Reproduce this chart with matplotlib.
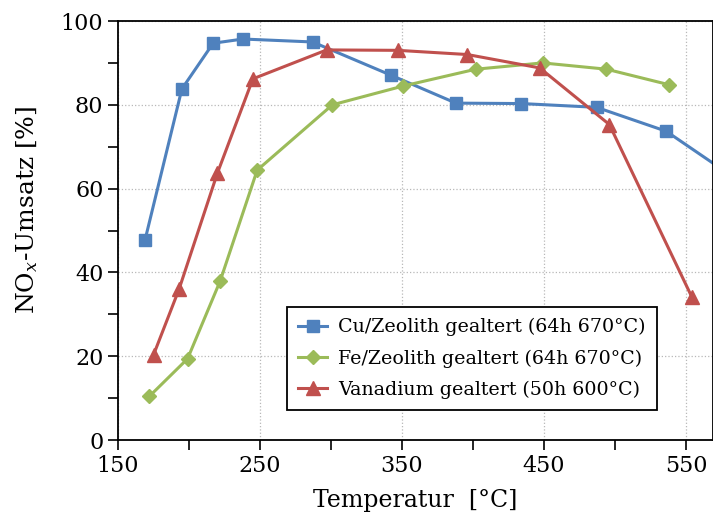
import matplotlib
matplotlib.use("Agg")
import matplotlib.pyplot as plt
from matplotlib.ticker import MultipleLocator

plt.rcParams['font.family'] = ['DejaVu Serif']
plt.rcParams['mathtext.fontset'] = 'dejavuserif'

# Cu/Zeolith gealtert
cu_t = [169, 195, 217, 238, 287, 342, 388, 434, 487, 536, 600]
cu_y = [47.7, 83.8, 94.7, 95.7, 95.0, 87.1, 80.4, 80.3, 79.4, 73.7, 58.9]

# Fe/Zeolith gealtert
fe_t = [172, 199, 222, 248, 301, 351, 402, 449, 494, 538]
fe_y = [10.4, 19.4, 38.0, 64.4, 80.0, 84.5, 88.5, 90.0, 88.5, 84.8]

# Vanadium gealtert
va_t = [175, 193, 220, 245, 297, 347, 396, 447, 496, 554]
va_y = [20.3, 36.0, 63.7, 86.2, 93.1, 93.0, 92.0, 88.8, 75.3, 34.2]

labels = ["Cu/Zeolith gealtert (64h 670°C)",
          "Fe/Zeolith gealtert (64h 670°C)",
          "Vanadium gealtert (50h 600°C)"]

fig = plt.figure(figsize=(7.13, 5.2), dpi=100)
ax = fig.add_axes([0.1655, 0.1538, 0.8345, 0.8058])

ax.plot(cu_t, cu_y, color='#4F81BD', lw=2.2, marker='s', ms=9, label=labels[0])
ax.plot(fe_t, fe_y, color='#9BBB59', lw=2.2, marker='D', ms=7, label=labels[1])
ax.plot(va_t, va_y, color='#C0504D', lw=2.2, marker='^', ms=10, label=labels[2])

ax.set_xlim(150, 569)
ax.set_ylim(0, 100)
ax.xaxis.set_minor_locator(MultipleLocator(50))
ax.yaxis.set_major_locator(MultipleLocator(20))
ax.yaxis.set_minor_locator(MultipleLocator(10))
ax.set_xticks([150, 250, 350, 450, 550])
ax.tick_params(which='both', direction='out', length=7, width=1.2, labelsize=16)
ax.grid(True, which='major', color='#b8b8b8', ls=':', lw=0.9)
ax.set_axisbelow(True)
for s in ax.spines.values():
    s.set_linewidth(1.3)

ax.set_xlabel("Temperatur  [°C]", fontsize=17, labelpad=9)
ax.set_ylabel("NO$_x$-Umsatz [%]", fontsize=18)
ax.yaxis.set_label_coords(-0.131, 0.55)

leg = ax.legend(loc='upper left', bbox_to_anchor=(0.284, 0.318), fontsize=13.7,
                fancybox=False, edgecolor='black', framealpha=1,
                handlelength=1.5, handletextpad=0.6, borderpad=0.6,
                labelspacing=0.68, borderaxespad=0)
leg.get_frame().set_linewidth(1.3)

fig.savefig("out.png", dpi=100)
